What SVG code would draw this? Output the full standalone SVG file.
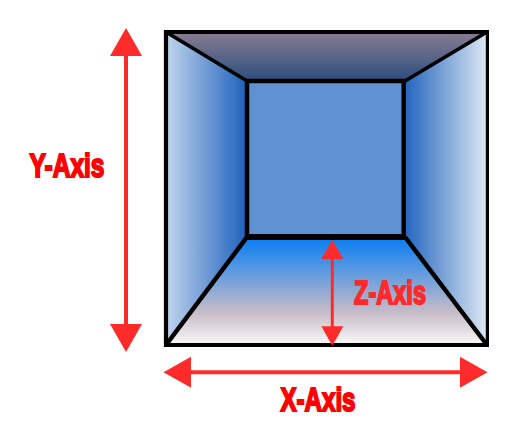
<svg xmlns="http://www.w3.org/2000/svg" width="518" height="443" viewBox="0 0 518 443">
<style>
.edge{fill:none;stroke:#000;stroke-width:4.5;stroke-linejoin:miter}
.lbl{font-family:"Liberation Sans Narrow","Liberation Sans",Arial,sans-serif;font-weight:700;font-size:34px;stroke-width:2px;paint-order:stroke;stroke-linejoin:miter}
.arrow{fill:#ff2a2a;stroke:none}
.shaft{stroke:#ff2a2a;fill:none}
</style>
<defs>
<linearGradient id="gL" gradientUnits="userSpaceOnUse" x1="168" y1="0" x2="247" y2="0"><stop offset="0" stop-color="#bdd2ec"/><stop offset="1" stop-color="#1d60bc"/></linearGradient>
<linearGradient id="gR" gradientUnits="userSpaceOnUse" x1="405" y1="0" x2="486" y2="0"><stop offset="0" stop-color="#2365bf"/><stop offset="1" stop-color="#dbe6f3"/></linearGradient>
<linearGradient id="gT" gradientUnits="userSpaceOnUse" x1="0" y1="34" x2="0" y2="79"><stop offset="0" stop-color="#857b90"/><stop offset="1" stop-color="#2f4f7f"/></linearGradient>
<linearGradient id="gB" gradientUnits="userSpaceOnUse" x1="0" y1="240" x2="0" y2="343"><stop offset="0" stop-color="#0d7ff2"/><stop offset="0.7" stop-color="#c6bcc8"/><stop offset="1" stop-color="#f7f5f5"/></linearGradient>
</defs>
<g id="room">
<polygon points="166,32 487,32 405,81 247,81" fill="url(#gT)"/>
<polygon points="166,32 247,81 247,237 166,345" fill="url(#gL)"/>
<polygon points="487,32 405,81 405,237 487,345" fill="url(#gR)"/>
<polygon points="247,237 405,237 487,345 166,345" fill="url(#gB)"/>
<rect x="247" y="81" width="157" height="156" fill="#5f91d3"/>
</g>
<g id="room-edges">
<path class="edge" style="stroke-width:3.6" d="M166,32L247,81M487,32L405,81"/>
<path class="edge" d="M247,237L166,345M405,237L487,345"/>
<path class="edge" d="M247,237V81H403.7V237"/>
<path class="edge" style="stroke-width:6" d="M245,237H406"/>
<path class="edge" style="stroke-width:4.2" d="M166,32H487.5M166,30V347M164,345H489"/>
<path class="edge" style="stroke-width:3.2" d="M487.4,30V347"/>
</g>
<g id="connectors">
<g id="y-arrow">
<path class="shaft" stroke-width="4" d="M126,50V330"/>
<polygon class="arrow" points="126,28 142,56 110,56"/>
<polygon class="arrow" points="126,352 142,324 110,324"/>
</g>
<g id="x-arrow">
<path class="shaft" stroke-width="4" d="M185,372.3H465"/>
<polygon class="arrow" points="163.5,372.3 191,356.7 191,387.7"/>
<polygon class="arrow" points="487.5,372.3 460,356.7 460,387.7"/>
</g>
<g id="z-arrow">
<path class="shaft" stroke-width="3" d="M332.3,255V330"/>
<polygon class="arrow" points="332.3,240 343.3,259 321.3,259"/>
<polygon class="arrow" points="332.3,345.7 343.3,326.3 321.3,326.3"/>
</g>
</g>
<g id="y-label"><text class="lbl" x="29.5" y="177" fill="#ff0000" stroke="#ff0000" textLength="75" lengthAdjust="spacingAndGlyphs">Y-Axis</text></g>
<g id="z-label"><text class="lbl" x="354" y="304" fill="#ff2a2a" stroke="#ff2a2a" textLength="72" lengthAdjust="spacingAndGlyphs">Z-Axis</text></g>
<g id="x-label"><text class="lbl" x="280.5" y="411" fill="#ff0000" stroke="#ff0000" textLength="75" lengthAdjust="spacingAndGlyphs">X-Axis</text></g>
</svg>
